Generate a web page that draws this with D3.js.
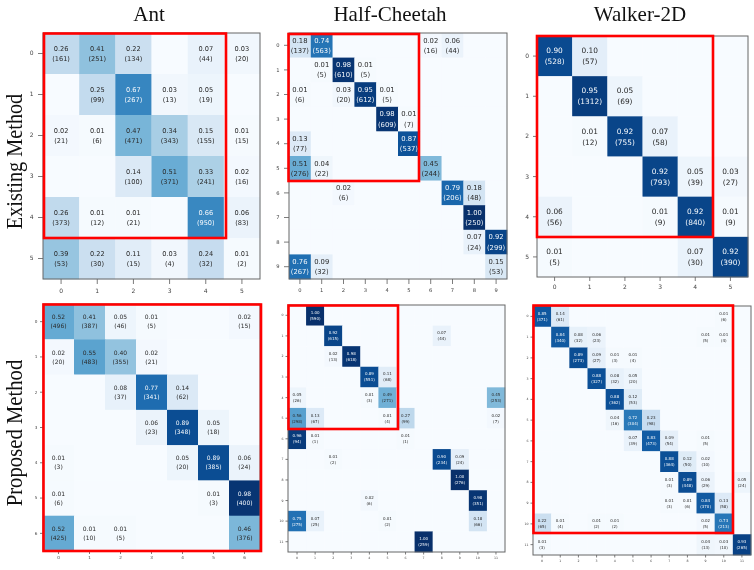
<!DOCTYPE html>
<html>
<head>
<meta charset="utf-8">
<script src="https://cdnjs.cloudflare.com/ajax/libs/d3/7.8.5/d3.min.js"></script>
<style>
  html, body { margin: 0; padding: 0; background: #fff; }
  svg { display: block; will-change: transform; }
  .cell-text { font-family: "DejaVu Sans", sans-serif; text-anchor: middle; }
  .tick text { font-family: "DejaVu Sans", sans-serif; fill: #444; }
  .head { font-family: "Liberation Serif", serif; fill: #111; text-anchor: middle; }
</style>
</head>
<body>
<svg id="chart" width="754" height="570"></svg>
<script>
const _ = null;

const columnTitles = ["Ant", "Half-Cheetah", "Walker-2D"];
const rowTitles = ["Existing Method", "Proposed Method"];

const antExistingRatio = [
  [.26, .41, .22, _, .07, .03],
  [_, .25, .67, .03, .05, _],
  [.02, .01, .47, .34, .15, .01],
  [_, _, .14, .51, .33, .02],
  [.26, .01, .01, _, .66, .06],
  [.39, .22, .11, .03, .24, .01]
];
const antExistingCount = [
  [161, 251, 134, _, 44, 20],
  [_, 99, 267, 13, 19, _],
  [21, 6, 471, 343, 155, 15],
  [_, _, 100, 371, 241, 16],
  [373, 12, 21, _, 950, 83],
  [53, 30, 15, 4, 32, 2]
];

const cheetahExistingRatio = [
  [.18, .74, _, _, _, _, .02, .06, _, _],
  [_, .01, .98, .01, _, _, _, _, _, _],
  [.01, _, .03, .95, .01, _, _, _, _, _],
  [_, _, _, _, .98, .01, _, _, _, _],
  [.13, _, _, _, _, .87, _, _, _, _],
  [.51, .04, _, _, _, _, .45, _, _, _],
  [_, _, .02, _, _, _, _, .79, .18, _],
  [_, _, _, _, _, _, _, _, 1.00, _],
  [_, _, _, _, _, _, _, _, .07, .92],
  [.76, .09, _, _, _, _, _, _, _, .15]
];
const cheetahExistingCount = [
  [137, 563, _, _, _, _, 16, 44, _, _],
  [_, 5, 610, 5, _, _, _, _, _, _],
  [6, _, 20, 612, 5, _, _, _, _, _],
  [_, _, _, _, 609, 7, _, _, _, _],
  [77, _, _, _, _, 537, _, _, _, _],
  [276, 22, _, _, _, _, 244, _, _, _],
  [_, _, 6, _, _, _, _, 206, 48, _],
  [_, _, _, _, _, _, _, _, 250, _],
  [_, _, _, _, _, _, _, _, 24, 299],
  [267, 32, _, _, _, _, _, _, _, 53]
];

const walkerExistingRatio = [
  [.90, .10, _, _, _, _],
  [_, .95, .05, _, _, _],
  [_, .01, .92, .07, _, _],
  [_, _, _, .92, .05, .03],
  [.06, _, _, .01, .92, .01],
  [.01, _, _, _, .07, .92]
];
const walkerExistingCount = [
  [528, 57, _, _, _, _],
  [_, 1312, 69, _, _, _],
  [_, 12, 755, 58, _, _],
  [_, _, _, 793, 39, 27],
  [56, _, _, 9, 840, 9],
  [5, _, _, _, 30, 390]
];

const antProposedRatio = [
  [.52, .41, .05, .01, _, _, .02],
  [.02, .55, .40, .02, _, _, _],
  [_, _, .08, .77, .14, _, _],
  [_, _, _, .06, .89, .05, _],
  [.01, _, _, _, .05, .89, .06],
  [.01, _, _, _, _, .01, .98],
  [.52, .01, .01, _, _, _, .46]
];
const antProposedCount = [
  [496, 387, 46, 5, _, _, 15],
  [20, 483, 355, 21, _, _, _],
  [_, _, 37, 341, 62, _, _],
  [_, _, _, 23, 348, 18, _],
  [3, _, _, _, 20, 385, 24],
  [6, _, _, _, _, 3, 400],
  [425, 10, 5, _, _, _, 376]
];

const cheetahProposedRatio = [
  [_, 1.00, _, _, _, _, _, _, _, _, _, _],
  [_, _, .92, _, _, _, _, _, .07, _, _, _],
  [_, _, .02, .98, _, _, _, _, _, _, _, _],
  [_, _, _, _, .89, .11, _, _, _, _, _, _],
  [.05, _, _, _, .01, .49, _, _, _, _, _, .45],
  [.56, .13, _, _, _, .01, .27, _, _, _, _, .02],
  [.96, .01, _, _, _, _, .01, _, _, _, _, _],
  [_, _, .01, _, _, _, _, _, .90, .09, _, _],
  [_, _, _, _, _, _, _, _, _, 1.00, _, _],
  [_, _, _, _, .02, _, _, _, _, _, .98, _],
  [.75, .07, _, _, _, .01, _, _, _, _, .18, _],
  [_, _, _, _, _, _, _, 1.00, _, _, _, _]
];
const cheetahProposedCount = [
  [_, 590, _, _, _, _, _, _, _, _, _, _],
  [_, _, 615, _, _, _, _, _, 44, _, _, _],
  [_, _, 13, 618, _, _, _, _, _, _, _, _],
  [_, _, _, _, 551, 68, _, _, _, _, _, _],
  [26, _, _, _, 3, 271, _, _, _, _, _, 253],
  [298, 67, _, _, _, 4, 99, _, _, _, _, 7],
  [94, 1, _, _, _, _, 1, _, _, _, _, _],
  [_, _, 2, _, _, _, _, _, 234, 24, _, _],
  [_, _, _, _, _, _, _, _, _, 276, _, _],
  [_, _, _, _, 6, _, _, _, _, _, 351, _],
  [275, 25, _, _, _, 2, _, _, _, _, 66, _],
  [_, _, _, _, _, _, _, 259, _, _, _, _]
];

const walkerProposedRatio = [
  [.85, .14, _, _, _, _, _, _, _, _, .01, _],
  [_, .84, .08, .06, _, _, _, _, _, .01, .01, _],
  [_, _, .89, .09, .01, .01, _, _, _, _, _, _],
  [_, _, _, .88, .08, .05, _, _, _, _, _, _],
  [_, _, _, _, .88, .12, _, _, _, _, _, _],
  [_, _, _, _, .04, .72, .23, _, _, _, _, _],
  [_, _, _, _, _, .07, .83, .09, _, .01, _, _],
  [_, _, _, _, _, _, _, .88, .12, .02, _, _],
  [_, _, _, _, _, _, _, .01, .89, .06, _, .05],
  [_, _, _, _, _, _, _, .01, .01, .84, .13, _],
  [.22, .01, _, .01, .01, _, _, _, _, .02, .73, _],
  [.01, _, _, _, _, _, _, _, _, .04, .03, .93]
];
const walkerProposedCount = [
  [371, 61, _, _, _, _, _, _, _, _, 6, _],
  [_, 340, 32, 23, _, _, _, _, _, 5, 4, _],
  [_, _, 273, 27, 3, 4, _, _, _, _, _, _],
  [_, _, _, 327, 32, 20, _, _, _, _, _, _],
  [_, _, _, _, 362, 53, _, _, _, _, _, _],
  [_, _, _, _, 16, 304, 98, _, _, _, _, _],
  [_, _, _, _, _, 39, 473, 54, _, 5, _, _],
  [_, _, _, _, _, _, _, 364, 50, 10, _, _],
  [_, _, _, _, _, _, _, 3, 448, 29, _, 24],
  [_, _, _, _, _, _, _, 3, 6, 370, 58, _],
  [65, 4, _, 2, 2, _, _, _, _, 5, 213, _],
  [3, _, _, _, _, _, _, _, _, 13, 10, 265]
];

// Each panel: its matrices, plot box, red highlight rectangle (in pixels) and text sizes.
const panels = [
  { ratio: antExistingRatio, count: antExistingCount,
    box: [43, 33, 260, 279], hi: [44, 33.5, 226, 238], cellFont: 6.6, tickFont: 6, tickLen: 5, tickPad: 4.5 },
  { ratio: cheetahExistingRatio, count: cheetahExistingCount,
    box: [289, 33, 507, 279], hi: [288.5, 34, 419, 181], cellFont: 6.8, tickFont: 5.2, tickLen: 5, tickPad: 4.5 },
  { ratio: walkerExistingRatio, count: walkerExistingCount,
    box: [537, 36, 748, 277], hi: [537, 36, 713, 237], cellFont: 7.4, tickFont: 6, tickLen: 4, tickPad: 4 },
  { ratio: antProposedRatio, count: antProposedCount,
    box: [43, 304, 260, 551], hi: [43.5, 304.5, 261, 551], cellFont: 6, tickFont: 4.2, tickLen: 3, tickPad: 2.5 },
  { ratio: cheetahProposedRatio, count: cheetahProposedCount,
    box: [288, 305, 505, 552], hi: [288.5, 305.5, 398, 429], cellFont: 4, tickFont: 3.2, tickLen: 2.5, tickPad: 2 },
  { ratio: walkerProposedRatio, count: walkerProposedCount,
    box: [533, 306, 751, 555], hi: [533.5, 305.5, 733, 533], cellFont: 4, tickFont: 3.2, tickLen: 2.5, tickPad: 2 }
];

const svg = d3.select("#chart");
const color = d3.scaleSequential(d3.interpolateBlues).domain([0, 1]);

panels.forEach(p => {
  const [x0, y0, x1, y1] = p.box;
  const idx = d3.range(p.ratio.length);
  const x = d3.scaleBand().domain(idx).range([x0, x1]);
  const y = d3.scaleBand().domain(idx).range([y0, y1]);
  const g = svg.append("g");

  const cells = idx.flatMap(r => idx.map(c => ({ r, c, v: p.ratio[r][c], n: p.count[r][c] })));

  g.selectAll("rect.cell").data(cells).join("rect")
    .attr("class", "cell")
    .attr("x", d => x(d.c)).attr("y", d => y(d.r))
    .attr("width", x.bandwidth() + 0.3).attr("height", y.bandwidth() + 0.3)
    .attr("fill", d => color(d.v === null ? 0 : d.v));

  const labelled = g.selectAll("text.cell-text").data(cells.filter(d => d.v !== null)).join("text")
    .attr("class", "cell-text")
    .attr("font-size", p.cellFont)
    .attr("fill", d => d.v > 0.6 ? "#f4f8fc" : "#2a2a2a");
  labelled.append("tspan")
    .attr("x", d => x(d.c) + x.bandwidth() / 2)
    .attr("y", d => y(d.r) + y.bandwidth() / 2 - p.cellFont * 0.39)
    .text(d => d.v.toFixed(2));
  labelled.append("tspan")
    .attr("x", d => x(d.c) + x.bandwidth() / 2)
    .attr("y", d => y(d.r) + y.bandwidth() / 2 + p.cellFont * 1.11)
    .text(d => `(${d.n})`);

  const styleAxis = a => {
    a.selectAll(".domain").remove();
    a.selectAll("line").attr("stroke", "#444").attr("stroke-width", 0.7);
    a.selectAll("text").attr("font-size", p.tickFont);
  };
  g.append("g").attr("transform", `translate(0,${y1})`)
    .call(d3.axisBottom(x).tickSize(p.tickLen).tickPadding(p.tickPad)).call(styleAxis);
  g.append("g").attr("transform", `translate(${x0},0)`)
    .call(d3.axisLeft(y).tickSize(p.tickLen).tickPadding(p.tickPad)).call(styleAxis);

  g.append("rect")
    .attr("x", x0).attr("y", y0).attr("width", x1 - x0).attr("height", y1 - y0)
    .attr("fill", "none").attr("stroke", "#666").attr("stroke-width", 1);

  g.append("rect")
    .attr("x", p.hi[0]).attr("y", p.hi[1])
    .attr("width", p.hi[2] - p.hi[0]).attr("height", p.hi[3] - p.hi[1])
    .attr("fill", "none").attr("stroke", "#f00").attr("stroke-width", 2.6);
});

// Column headings above the top row.
const titleCentres = [149, 390, 640];
svg.selectAll("text.col-title").data(columnTitles).join("text")
  .attr("class", "head col-title")
  .attr("x", (d, i) => titleCentres[i]).attr("y", 21)
  .attr("font-size", 21)
  .text(d => d);

// Rotated row headings along the left edge, narrowed along their length.
const rowCentres = [161.5, 433];
const rowStretch = [0.88, 0.9];
svg.selectAll("text.row-title").data(rowTitles).join("text")
  .attr("class", "head row-title")
  .attr("transform", (d, i) => `translate(22,${rowCentres[i]}) rotate(-90) scale(${rowStretch[i]},1)`)
  .attr("font-size", 23)
  .text(d => d);
</script>
</body>
</html>
